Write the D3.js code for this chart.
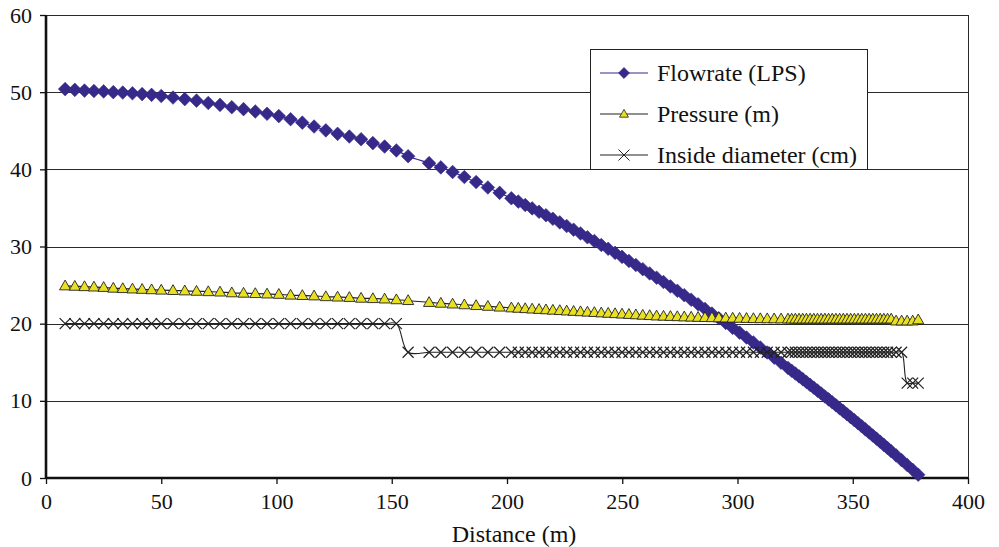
<!DOCTYPE html>
<html><head><meta charset="utf-8">
<script src="https://cdn.jsdelivr.net/npm/d3@7"></script>
<style>
body{margin:0;background:#fff}
svg{display:block}
text{font-family:"Liberation Serif","Times New Roman",serif;fill:#111}
</style>
</head><body>
<svg id="chart" width="999" height="547"></svg>
<script>
// ---------- data ----------
const distance = [
  8.3, 12.5, 16.7, 20.8, 25.0, 29.2, 33.3, 37.5, 41.7, 45.8, 50.0,
  55.1, 60.2, 65.3, 70.4, 75.5, 80.6, 85.7, 90.8, 95.9, 101.0, 106.1, 111.2, 116.3, 121.4, 126.5, 131.6, 136.7, 141.8, 146.9, 152.0, 157.1,
  166.2, 171.3, 176.4, 181.5, 186.6, 191.7, 196.8, 201.9,
  204.9, 207.9, 210.9, 213.9, 216.9, 219.9, 222.9, 225.9, 228.9, 231.9, 234.9, 237.9, 240.9, 243.9, 246.9, 249.9, 252.9, 255.9, 258.9, 261.9,
  264.9, 267.9, 270.9, 273.9, 276.9, 279.9, 282.9, 285.9, 288.9, 291.9, 294.9, 297.9, 300.9, 303.9, 306.9, 309.9, 312.9, 315.9, 318.9, 321.9,
  323.5, 325.1, 326.7, 328.3, 329.9, 331.5, 333.1, 334.7, 336.3, 337.9, 339.5, 341.1, 342.7, 344.3, 345.9, 347.5, 349.1, 350.7, 352.3, 353.9,
  355.5, 357.1, 358.7, 360.3, 361.9, 363.5, 365.1, 366.7,
  368.8, 371.2, 373.6, 376.0, 378.4
];
const flowrate = [
  50.4, 50.3, 50.2, 50.15, 50.1, 50.0, 49.95, 49.85, 49.75, 49.65, 49.5,
  49.3, 49.1, 48.9, 48.6, 48.35, 48.05, 47.8, 47.5, 47.2, 46.9, 46.5, 46.05, 45.55, 45.05, 44.6, 44.25, 43.9, 43.4, 42.95, 42.45, 41.7,
  40.8, 40.25, 39.65, 39.0, 38.35, 37.65, 36.95, 36.25,
  35.82, 35.38, 34.94, 34.50, 34.05, 33.59, 33.12, 32.65, 32.18, 31.69, 31.20, 30.71, 30.20, 29.70, 29.18, 28.66, 28.13, 27.60, 27.06, 26.51,
  25.96, 25.40, 24.83, 24.26, 23.69, 23.10, 22.51, 21.91, 21.31, 20.70, 20.09, 19.46, 18.84, 18.20, 17.56, 16.91, 16.26, 15.60, 14.93, 14.26,
  13.90, 13.54, 13.17, 12.81, 12.44, 12.07, 11.70, 11.32, 10.95, 10.57, 10.19, 9.81, 9.43, 9.04, 8.66, 8.27, 7.88, 7.49, 7.09, 6.70,
  6.30, 5.90, 5.50, 5.10, 4.70, 4.29, 3.88, 3.47,
  2.93, 2.31, 1.69, 1.06, 0.42
];
const pressure = [
  24.9, 24.85, 24.8, 24.75, 24.7, 24.6, 24.55, 24.5, 24.45, 24.4, 24.35,
  24.3, 24.25, 24.2, 24.15, 24.1, 24.0, 23.95, 23.9, 23.85, 23.8, 23.7, 23.65, 23.6, 23.5, 23.45, 23.4, 23.3, 23.25, 23.2, 23.1, 23.0,
  22.75, 22.65, 22.55, 22.45, 22.35, 22.25, 22.15, 22.05,
  22.0, 21.95, 21.9, 21.85, 21.8, 21.75, 21.7, 21.65, 21.6, 21.55, 21.5, 21.45, 21.4, 21.35, 21.3, 21.25, 21.2, 21.15, 21.1, 21.05,
  21.0, 20.97, 20.94, 20.91, 20.88, 20.85, 20.82, 20.8, 20.78, 20.76, 20.74, 20.72, 20.7, 20.68, 20.66, 20.65, 20.64, 20.63, 20.62, 20.61,
  20.6, 20.6, 20.6, 20.6, 20.6, 20.6, 20.6, 20.6, 20.6, 20.6, 20.6, 20.6, 20.6, 20.6, 20.6, 20.6, 20.6, 20.6, 20.6, 20.6,
  20.6, 20.6, 20.6, 20.6, 20.6, 20.6, 20.6, 20.6,
  20.35, 20.35, 20.35, 20.35, 20.5
];
const diameter = [
  20, 20, 20, 20, 20, 20, 20, 20, 20, 20, 20,
  20, 20, 20, 20, 20, 20, 20, 20, 20, 20, 20, 20, 20, 20, 20, 20, 20, 20, 20, 20, 16.3,
  16.3, 16.3, 16.3, 16.3, 16.3, 16.3, 16.3, 16.3,
  16.3, 16.3, 16.3, 16.3, 16.3, 16.3, 16.3, 16.3, 16.3, 16.3, 16.3, 16.3, 16.3, 16.3, 16.3, 16.3, 16.3, 16.3, 16.3, 16.3,
  16.3, 16.3, 16.3, 16.3, 16.3, 16.3, 16.3, 16.3, 16.3, 16.3, 16.3, 16.3, 16.3, 16.3, 16.3, 16.3, 16.3, 16.3, 16.3, 16.3,
  16.3, 16.3, 16.3, 16.3, 16.3, 16.3, 16.3, 16.3, 16.3, 16.3, 16.3, 16.3, 16.3, 16.3, 16.3, 16.3, 16.3, 16.3, 16.3, 16.3,
  16.3, 16.3, 16.3, 16.3, 16.3, 16.3, 16.3, 16.3,
  16.3, 16.3, 12.3, 12.3, 12.3
];
const seriesNames = ["Flowrate (LPS)", "Pressure (m)", "Inside diameter (cm)"];
const xTicks = [0, 50, 100, 150, 200, 250, 300, 350, 400];
const yTicks = [0, 10, 20, 30, 40, 50, 60];
const gridValues = [10, 20, 30, 40, 50];
const xTitle = "Distance (m)";

// ---------- drawing ----------
const FONT = '"Liberation Serif","Times New Roman",serif';
const svg = d3.select("#chart");
svg.append("rect").attr("width", 999).attr("height", 547).attr("fill", "#fff");

const x = d3.scaleLinear().domain([0, 400]).range([46, 968]);
const y = d3.scaleLinear().domain([0, 60]).range([478, 15]);

const FLOW = "#36298a", YEL = "#e8e021";

// grid
svg.append("g").selectAll("line").data(gridValues).join("line")
  .attr("x1", x(0)).attr("x2", x(400))
  .attr("y1", d => Math.round(y(d)) + 0.5).attr("y2", d => Math.round(y(d)) + 0.5)
  .attr("stroke", "#2a2a2a").attr("stroke-width", 1);
// top & right frame
svg.append("line").attr("x1", x(0)).attr("x2", x(400)).attr("y1", y(60) + 0.5).attr("y2", y(60) + 0.5)
  .attr("stroke", "#2a2a2a").attr("stroke-width", 1);
svg.append("line").attr("x1", x(400) + 0.5).attr("x2", x(400) + 0.5).attr("y1", y(60)).attr("y2", y(0))
  .attr("stroke", "#2a2a2a").attr("stroke-width", 1);

// axes
const xAxis = svg.append("g").attr("transform", `translate(0,${y(0)})`)
  .call(d3.axisBottom(x).tickValues(xTicks).tickSize(6).tickPadding(9).tickFormat(d3.format("d")));
const yAxis = svg.append("g").attr("transform", `translate(${x(0)},0)`)
  .call(d3.axisLeft(y).tickValues(yTicks).tickSize(6).tickPadding(8).tickFormat(d3.format("d")));
[xAxis, yAxis].forEach(g => {
  g.attr("font-family", FONT);
  g.select(".domain").remove();
  g.selectAll(".tick line").attr("stroke", "#111").attr("stroke-width", 1.3);
  g.selectAll(".tick text").attr("font-size", 22).attr("fill", "#111").attr("font-family", FONT);
});
svg.append("line").attr("x1", x(0)).attr("x2", x(400)).attr("y1", y(0)).attr("y2", y(0))
  .attr("stroke", "#111").attr("stroke-width", 2.6);
svg.append("line").attr("x1", x(0)).attr("x2", x(0)).attr("y1", y(60)).attr("y2", y(0))
  .attr("stroke", "#111").attr("stroke-width", 2.6);

svg.append("text").attr("x", 514).attr("y", 542).attr("text-anchor", "middle")
  .attr("font-family", FONT).attr("font-size", 24).text(xTitle);

// series
const pts = distance.map((d, i) => ({d, q: flowrate[i], p: pressure[i], di: diameter[i]}));
const curve = d3.curveCatmullRom.alpha(0.5);
const plot = svg.append("g");

const diamondPath = "M0,-6.8L6.8,0L0,6.8L-6.8,0Z";
const triPath = "M0,-5.8L5.6,4L-5.6,4Z";
const xPath = "M-5.5,-5.5L5.5,5.5M5.5,-5.5L-5.5,5.5";

// flowrate
plot.append("path").datum(pts).attr("fill", "none").attr("stroke", FLOW).attr("stroke-width", 1.2)
  .attr("d", d3.line().x(p => x(p.d)).y(p => y(p.q)).curve(curve));
plot.append("g").selectAll("path").data(pts).join("path")
  .attr("transform", p => `translate(${x(p.d)},${y(p.q)})`)
  .attr("d", diamondPath).attr("fill", FLOW).attr("stroke", FLOW).attr("stroke-width", 0.6);

// pressure
plot.append("path").datum(pts).attr("fill", "none").attr("stroke", "#222").attr("stroke-width", 1.2)
  .attr("d", d3.line().x(p => x(p.d)).y(p => y(p.p)).curve(curve));
plot.append("g").selectAll("path").data(pts).join("path")
  .attr("transform", p => `translate(${x(p.d)},${y(p.p)})`)
  .attr("d", triPath).attr("fill", YEL).attr("stroke", "#222").attr("stroke-width", 0.9);

// diameter
plot.append("path").datum(pts).attr("fill", "none").attr("stroke", "#222").attr("stroke-width", 1.1)
  .attr("d", d3.line().x(p => x(p.d)).y(p => y(p.di)).curve(curve));
plot.append("g").selectAll("path").data(pts).join("path")
  .attr("transform", p => `translate(${x(p.d)},${y(p.di)})`)
  .attr("d", xPath).attr("fill", "none").attr("stroke", "#222").attr("stroke-width", 1.2);

// legend
const lg = svg.append("g");
lg.append("rect").attr("x", 590.5).attr("y", 49.5).attr("width", 277).attr("height", 120)
  .attr("fill", "#fff").attr("stroke", "#222").attr("stroke-width", 1);
const rows = [73, 114, 155];
const legendStyles = [
  {stroke: FLOW, mark: diamondPath, fill: FLOW, mstroke: FLOW, scale: 0.8},
  {stroke: "#222", mark: triPath, fill: YEL, mstroke: "#222", scale: 0.8},
  {stroke: "#222", mark: xPath, fill: "none", mstroke: "#222", scale: 1.0}
];
seriesNames.forEach((name, i) => {
  const s = legendStyles[i];
  lg.append("line").attr("x1", 600).attr("x2", 648).attr("y1", rows[i]).attr("y2", rows[i])
    .attr("stroke", s.stroke).attr("stroke-width", 1.2);
  lg.append("path").attr("d", s.mark).attr("transform", `translate(624,${rows[i]}) scale(${s.scale})`)
    .attr("fill", s.fill).attr("stroke", s.mstroke).attr("stroke-width", 1);
  lg.append("text").attr("x", 657).attr("y", rows[i] + 8).attr("font-family", FONT)
    .attr("font-size", 24).text(name);
});
</script>
</body></html>
